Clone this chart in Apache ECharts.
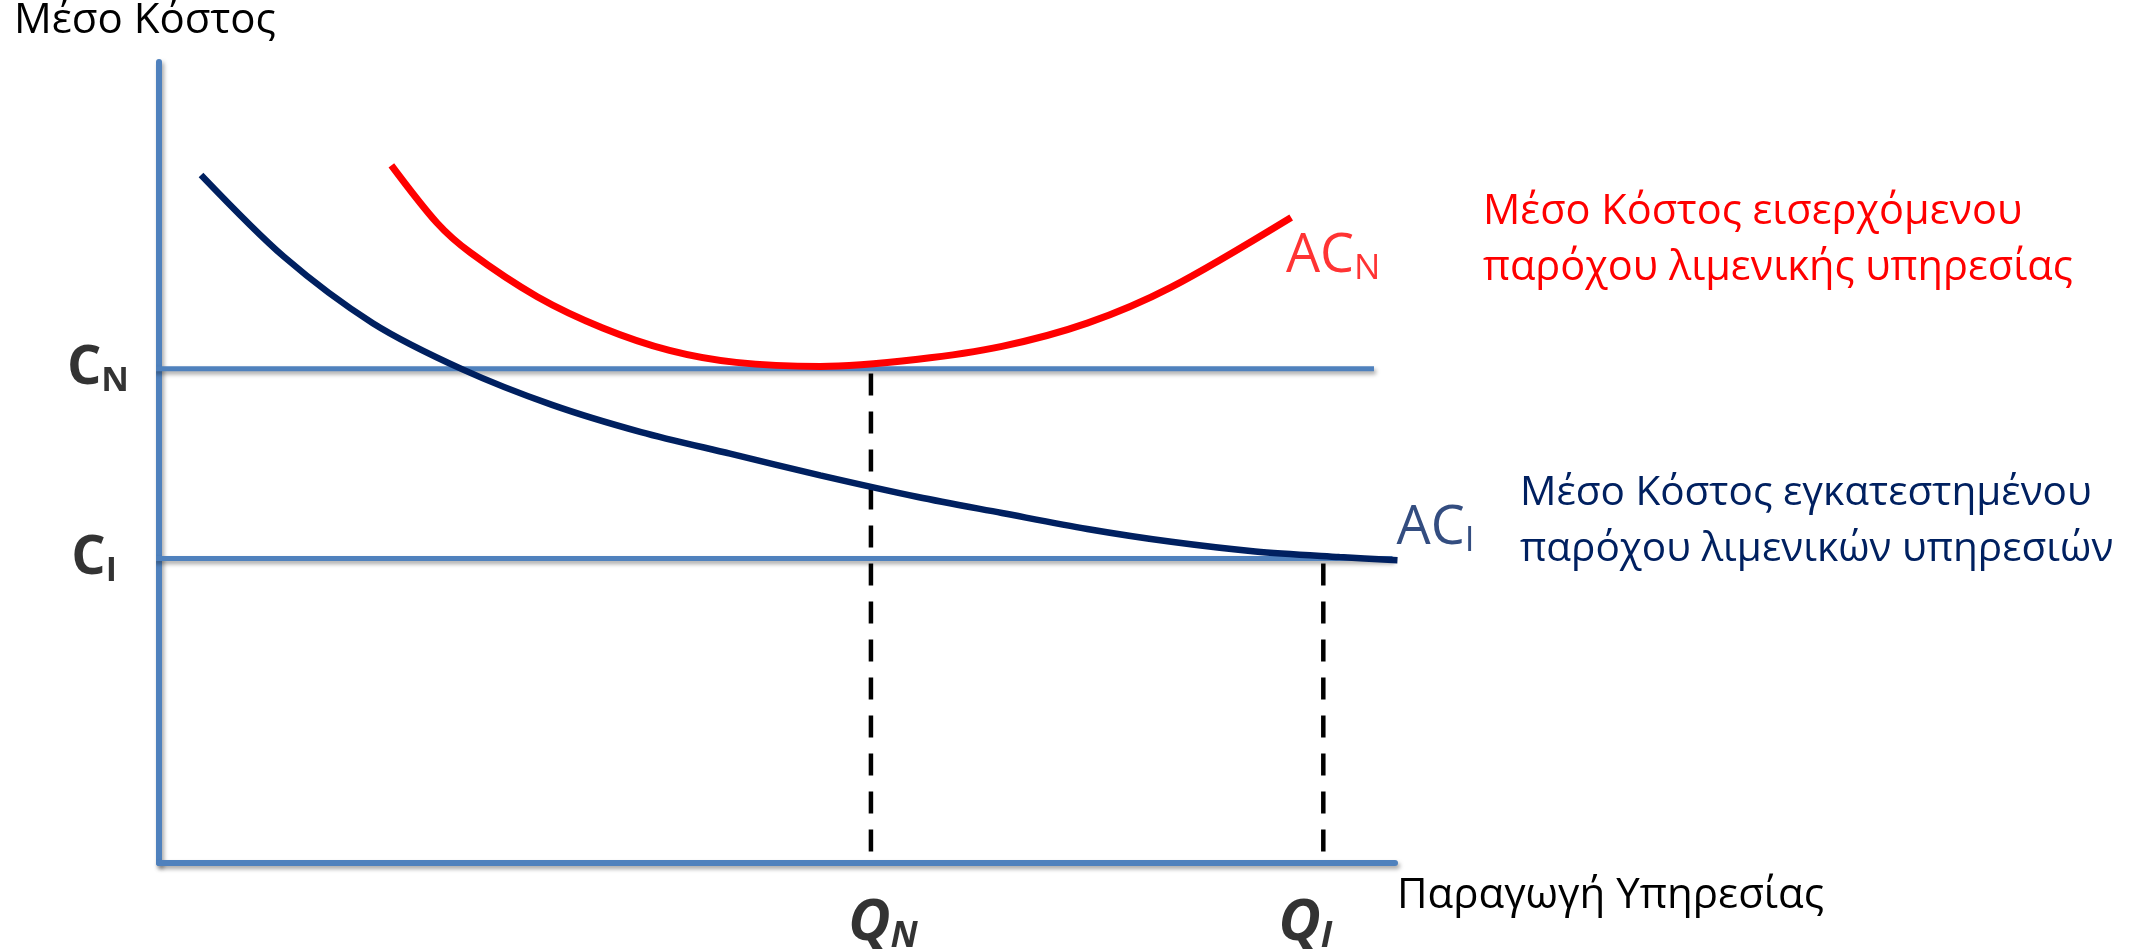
<!DOCTYPE html>
<html>
<head>
<meta charset="utf-8">
<script src="https://cdn.jsdelivr.net/npm/echarts@6/dist/echarts.min.js"></script>
<style>
html,body{margin:0;padding:0;background:#fff;}
#chart{width:2144px;height:949px;}
</style>
</head>
<body>
<div id="chart"></div>
<script>
// ---- data (axis units 0..100) ----
const acN_x = [18.8, 22.5, 25.2, 30.6, 35.9, 41.3, 46.7, 53.5, 61.4, 68.2, 75.1, 81.9, 91.6];
const acN_y = [87.1, 79.9, 76.2, 70.7, 66.8, 64.0, 62.5, 62.0, 62.9, 64.5, 67.4, 71.9, 80.6];
const acI_x = [3.4, 10.1, 17.3, 24.6, 31.8, 39.0, 46.2, 53.5, 61.4, 68.2, 75.1, 81.9, 88.7, 95.5, 100.2];
const acI_y = [85.9, 75.7, 67.4, 61.6, 57.2, 53.8, 51.1, 48.4, 45.7, 43.7, 41.7, 40.1, 38.9, 38.2, 37.8];
const costLevels = { CN: 61.7, CI: 38.0 };
const qtyLevels = { QN: 57.6, QI: 94.2 };
const levelLineEnds = { CN: [-0.5, 98.3], CI: [-0.5, 99.8] };
const texts = {
  yTitle: 'Μέσο Κόστος',
  xTitle: 'Παραγωγή Υπηρεσίας',
  newEntrant: ['Μέσο Κόστος εισερχόμενου', 'παρόχου λιμενικής υπηρεσίας'],
  incumbent: ['Μέσο Κόστος εγκατεστημένου', 'παρόχου λιμενικών υπηρεσιών']
};

const zip = (xs, ys) => xs.map((x, i) => [x, ys[i]]);
const FONT = '"Open Sans", "Noto Sans", sans-serif';
const BLUE = '#4F81BD', RED = '#FF0000', NAVY = '#002060';
const axisShadow = { shadowColor: 'rgba(0,0,0,0.35)', shadowBlur: 4, shadowOffsetX: 2, shadowOffsetY: 3 };

const chart = echarts.init(document.getElementById('chart'));

function subLabel(main, sub, color, pos, dist, bold, italic, mainSize, subSize, subPad, offset) {
  return {
    show: true, position: pos, distance: dist, offset: offset || [0, 0],
    formatter: '{m|' + main + '}{s|' + sub + '}',
    rich: {
      m: { fontSize: mainSize, fontWeight: bold ? 'bold' : 'normal', fontStyle: italic ? 'italic' : 'normal', fontFamily: FONT, color: color },
      s: { fontSize: subSize, fontWeight: bold ? 'bold' : 'normal', fontStyle: italic ? 'italic' : 'normal', fontFamily: FONT, color: color, padding: [subPad, 0, 0, 0] }
    }
  };
}

const option = {
  animation: false,
  backgroundColor: '#fff',
  grid: { left: 159, top: 62, width: 1236, height: 801 },
  xAxis: {
    type: 'value', min: 0, max: 100,
    axisLine: { show: true, onZero: false, lineStyle: Object.assign({ color: BLUE, width: 6 }, axisShadow) },
    axisTick: { show: false }, axisLabel: { show: false }, splitLine: { show: false }
  },
  yAxis: {
    type: 'value', min: 0, max: 100,
    axisLine: { show: true, onZero: false, lineStyle: Object.assign({ color: BLUE, width: 6 }, axisShadow) },
    axisTick: { show: false }, axisLabel: { show: false }, splitLine: { show: false }
  },
  series: [
    { type: 'line', data: [[levelLineEnds.CN[0], costLevels.CN], [levelLineEnds.CN[1], costLevels.CN]], symbol: 'none', clip: false,
      lineStyle: Object.assign({ color: BLUE, width: 5 }, axisShadow), z: 2 },
    { type: 'line', data: [[levelLineEnds.CI[0], costLevels.CI], [levelLineEnds.CI[1], costLevels.CI]], symbol: 'none', clip: false,
      lineStyle: Object.assign({ color: BLUE, width: 5 }, axisShadow), z: 2 },
    { type: 'line', data: [[qtyLevels.QN, costLevels.CN - 0.6], [qtyLevels.QN, 0]], symbol: 'none',
      lineStyle: { color: '#000', width: 4.5, type: [22, 16] }, z: 3 },
    { type: 'line', data: [[qtyLevels.QI, costLevels.CI - 0.6], [qtyLevels.QI, 0]], symbol: 'none',
      lineStyle: { color: '#000', width: 4.5, type: [22, 16] }, z: 3 },
    { type: 'line', data: zip(acN_x, acN_y), symbol: 'none', smooth: 0.3, clip: false,
      lineStyle: { color: RED, width: 7 }, z: 5 },
    { type: 'line', data: zip(acI_x, acI_y), symbol: 'none', smooth: 0.3, clip: false,
      lineStyle: { color: NAVY, width: 6.5 }, z: 5 },
    // axis-level and curve labels
    { type: 'scatter', symbolSize: 0, clip: false, silent: true, z: 6,
      data: [{ value: [0, costLevels.CN], label: subLabel('C', 'N', '#000', 'left', 30, true, false, 54, 34, 26) },
             { value: [0, costLevels.CI], label: subLabel('C', 'I', '#000', 'left', 42, true, false, 54, 34, 26) },
             { value: [qtyLevels.QN, 0], label: subLabel('Q', 'N', '#000', 'bottom', 28, true, true, 58, 36, 28, [12, 0]) },
             { value: [qtyLevels.QI, 0], label: subLabel('Q', 'I', '#000', 'bottom', 28, true, true, 58, 36, 28, [-18, 0]) },
             { value: [acN_x[acN_x.length - 1], acN_y[acN_y.length - 1]], label: subLabel('AC', 'N', RED, 'bottom', 10, false, false, 54, 35, 24, [42, 0]) },
             { value: [acI_x[acI_x.length - 1], acI_y[acI_y.length - 1]], label: subLabel('AC', 'I', NAVY, 'top', 2, false, false, 54, 35, 24, [38, 0]) }
      ] }
  ],
  graphic: [
    { type: 'text', left: 14, top: 0, style: { text: texts.yTitle, font: '42px ' + FONT, fill: '#000' } },
    { type: 'text', left: 1397, top: 875, style: { text: texts.xTitle, font: '42px ' + FONT, fill: '#000' } },
    { type: 'text', left: 1483, top: 184, style: { text: texts.newEntrant.join('\n'), font: '41.5px ' + FONT, lineHeight: 56, fill: RED } },
    { type: 'text', left: 1520, top: 465, style: { text: texts.incumbent.join('\n'), font: '40.5px ' + FONT, lineHeight: 56, fill: NAVY } }
  ]
};
chart.setOption(option);
</script>
</body>
</html>
